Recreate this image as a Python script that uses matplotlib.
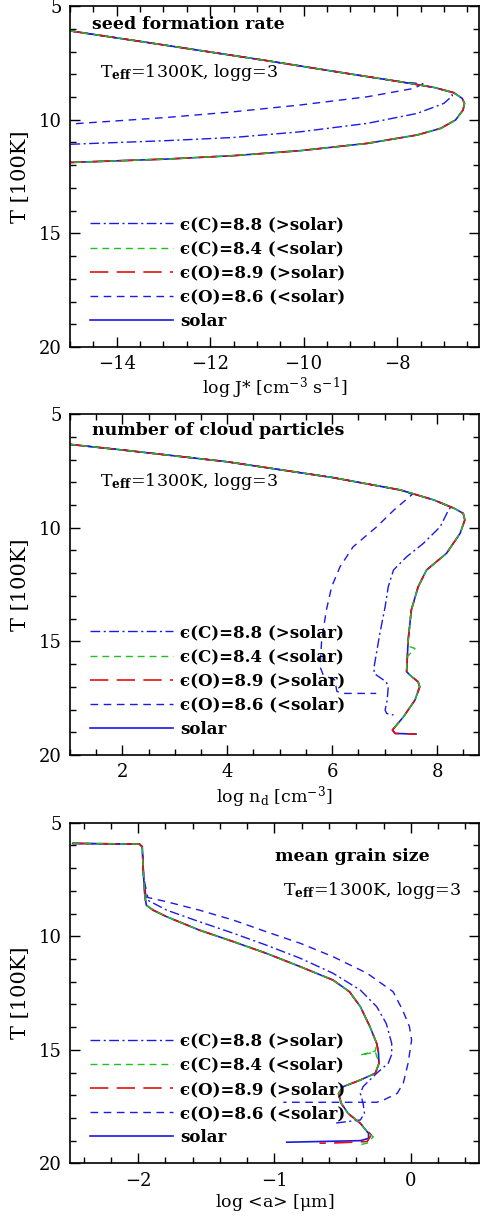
import matplotlib
matplotlib.use("Agg")
import matplotlib.pyplot as plt
from matplotlib.ticker import MultipleLocator
from matplotlib.lines import Line2D

plt.rcParams["font.family"] = "DejaVu Serif"
plt.rcParams["font.size"] = 12
plt.rcParams["mathtext.fontset"] = "dejavuserif"
plt.rcParams["mathtext.default"] = "regular"
plt.rcParams["axes.linewidth"] = 1.2
plt.rcParams["figure.facecolor"] = "white"

# ---- panel 1: seed formation rate, log J* vs T[100K]
J_solar = [-15.0, -12.93, -10.79, -9.36, -7.93, -7.21, -6.79, -6.61, -6.56, -6.59,
           -6.75, -7.07, -7.57, -8.64, -10.07, -11.5, -12.93, -15.0]
TJ_solar = [6.09, 6.73, 7.40, 7.87, 8.33, 8.58, 8.81, 9.06, 9.28, 9.57,
            10.01, 10.38, 10.67, 11.04, 11.36, 11.58, 11.73, 11.88]
J_c88 = [-15.0, -12.93, -10.79, -9.36, -7.93, -7.21, -6.85, -6.82, -7.0, -7.57,
         -8.64, -10.07, -11.5, -12.93, -15.0]
TJ_c88 = [6.09, 6.73, 7.40, 7.87, 8.33, 8.58, 8.78, 8.95, 9.28, 9.72,
          10.16, 10.53, 10.78, 10.92, 11.08]
J_o86 = [-15.0, -12.93, -10.79, -9.36, -7.93, -7.45, -7.64, -8.64, -10.07, -11.5,
         -12.93, -15.0]
TJ_o86 = [6.09, 6.73, 7.40, 7.87, 8.33, 8.42, 8.62, 8.99, 9.35, 9.65, 9.90, 10.19]
# eps(C)=8.4 and eps(O)=8.9 lie on top of the solar curve here
J_c84, TJ_c84 = J_solar, TJ_solar
J_o89, TJ_o89 = J_solar, TJ_solar

# ---- panel 2: number of cloud particles, log n_d vs T[100K]
n_solar = [0.98, 2.0, 4.0, 6.0, 7.30, 7.94, 8.33, 8.50, 8.53, 8.44, 8.18, 7.80, 7.64,
           7.51, 7.45, 7.42, 7.48, 7.64, 7.67, 7.58, 7.36, 7.15, 7.20, 7.60]
Tn_solar = [6.33, 6.58, 7.10, 7.79, 8.34, 8.78, 9.15, 9.37, 9.66, 10.25, 11.13, 11.86,
            12.60, 13.62, 14.94, 16.33, 16.48, 16.78, 17.0, 17.58, 18.32, 18.90, 19.05, 19.08]
n_c88 = [0.98, 2.0, 4.0, 6.0, 7.30, 7.94, 8.26, 8.22, 8.06, 7.74, 7.42, 7.17, 7.07,
         7.01, 6.91, 6.80, 6.80, 7.03, 7.07, 7.05, 7.01, 7.04, 7.17]
Tn_c88 = [6.33, 6.58, 7.10, 7.79, 8.34, 8.78, 9.10, 9.22, 9.96, 10.69, 11.28, 11.86,
          12.60, 13.48, 14.65, 16.12, 16.41, 16.78, 17.0, 17.58, 18.02, 18.17, 18.24]
n_o86 = [0.98, 2.0, 4.0, 6.0, 7.30, 7.53, 7.18, 6.85, 6.40, 6.15, 5.99, 5.89, 5.80,
         5.77, 5.83, 6.05, 6.09, 6.21, 6.84]
Tn_o86 = [6.33, 6.58, 7.10, 7.79, 8.34, 8.53, 9.22, 9.96, 10.84, 11.72, 12.60, 13.62,
          14.94, 16.12, 16.48, 16.70, 17.20, 17.29, 17.29]
n_c84 = [0.98, 2.0, 4.0, 6.0, 7.30, 7.94, 8.33, 8.50, 8.53, 8.44, 8.18, 7.80, 7.64,
         7.51, 7.45, 7.43, 7.58, 7.48, 7.42, 7.42, 7.48, 7.64, 7.67, 7.58, 7.36, 7.15]
Tn_c84 = [6.33, 6.58, 7.10, 7.79, 8.34, 8.78, 9.15, 9.37, 9.66, 10.25, 11.13, 11.86,
          12.60, 13.62, 14.94, 15.20, 15.31, 15.56, 15.70, 16.33, 16.48, 16.78, 17.0,
          17.58, 18.32, 18.90]
n_o89, Tn_o89 = n_solar, Tn_solar

# ---- panel 3: mean grain size, log <a> vs T[100K]
a_solar = [-2.48, -1.99, -1.97, -1.96, -1.95, -1.94, -1.89, -1.79, -1.55, -1.30, -1.06,
           -0.81, -0.57, -0.45, -0.37, -0.30, -0.25, -0.238, -0.233, -0.26, -0.37,
           -0.495, -0.53, -0.51, -0.46, -0.37, -0.31, -0.31, -0.37, -0.91]
Ta_solar = [5.91, 5.94, 6.06, 7.38, 8.26, 8.63, 8.85, 9.14, 9.73, 10.24, 10.75, 11.34,
            11.93, 12.44, 13.10, 13.98, 14.72, 15.08, 15.59, 16.03, 16.33, 16.62, 16.92,
            17.36, 17.80, 18.24, 18.68, 18.90, 19.0, 19.07]
a_c88 = [-2.48, -1.99, -1.97, -1.96, -1.94, -1.79, -1.55, -1.30, -1.06, -0.81, -0.57,
         -0.37, -0.25, -0.18, -0.14, -0.14, -0.165, -0.25, -0.35, -0.37, -0.35, -0.34,
         -0.37, -0.57]
Ta_c88 = [5.91, 5.94, 6.06, 7.38, 8.38, 8.85, 9.36, 9.87, 10.39, 10.97, 11.63, 12.37,
          13.10, 13.84, 14.72, 15.20, 15.59, 16.03, 16.62, 16.92, 17.36, 17.80, 18.09,
          18.24]
a_o86 = [-2.48, -1.99, -1.97, -1.96, -1.93, -1.79, -1.55, -1.30, -1.06, -0.81, -0.57,
         -0.32, -0.13, -0.06, -0.01, 0.006, -0.02, -0.055, -0.10, -0.20, -0.25, -0.935]
Ta_o86 = [5.91, 5.94, 6.06, 7.38, 8.29, 8.48, 8.85, 9.29, 9.80, 10.31, 10.90, 11.63,
          12.44, 13.25, 13.98, 14.57, 15.59, 16.47, 16.92, 17.21, 17.31, 17.31]
a_c84 = [-2.48, -1.99, -1.97, -1.96, -1.95, -1.94, -1.89, -1.79, -1.55, -1.30, -1.06,
         -0.81, -0.57, -0.45, -0.37, -0.30, -0.25, -0.26, -0.37, -0.26, -0.233, -0.26,
         -0.37, -0.495, -0.53, -0.51, -0.46, -0.37, -0.31, -0.275, -0.32, -0.38]
Ta_c84 = [5.91, 5.94, 6.06, 7.38, 8.26, 8.63, 8.85, 9.14, 9.73, 10.24, 10.75, 11.34,
          11.93, 12.44, 13.10, 13.98, 14.72, 15.05, 15.23, 15.10, 15.59, 16.03, 16.33,
          16.62, 16.92, 17.36, 17.80, 18.24, 18.68, 18.83, 19.11, 19.19]
a_o89 = [-2.48, -1.99, -1.97, -1.96, -1.95, -1.94, -1.89, -1.79, -1.55, -1.30, -1.06,
         -0.81, -0.57, -0.45, -0.37, -0.30, -0.25, -0.238, -0.233, -0.26, -0.37,
         -0.495, -0.53, -0.51, -0.46, -0.37, -0.29, -0.32, -0.59, -0.67]
Ta_o89 = [5.91, 5.94, 6.06, 7.38, 8.26, 8.63, 8.85, 9.14, 9.73, 10.24, 10.75, 11.34,
          11.93, 12.44, 13.10, 13.98, 14.72, 15.08, 15.59, 16.03, 16.33, 16.62, 16.92,
          17.36, 17.80, 18.24, 18.75, 19.04, 19.11, 19.11]

labels = ["\u03f5(C)=8.8 (>solar)", "\u03f5(C)=8.4 (<solar)",
          "\u03f5(O)=8.9 (>solar)", "\u03f5(O)=8.6 (<solar)", "solar"]
teff_text = r"T$_{\bf eff}$=1300K, logg=3"

BLUE = "#1a1ae6"
GREEN = "#20c020"
RED = "#e01010"
sty_c88 = dict(color=BLUE, lw=1.0, dashes=(7, 2.5, 1.5, 2.5))
sty_c84 = dict(color=GREEN, lw=1.0, dashes=(5, 3.5))
sty_o89 = dict(color=RED, lw=1.2, dashes=(11, 5))
sty_o86 = dict(color=BLUE, lw=1.0, dashes=(5.5, 4))
sty_sol = dict(color=BLUE, lw=1.2)


def panel(ax, series, xlim, xmajor, xminor, xlabel):
    (xs, ts), (xc, tc), (xg, tg), (xr, tr), (xo, to) = series
    ax.plot(xs, ts, **sty_sol)
    ax.plot(xc, tc, **sty_c88)
    ax.plot(xo, to, **sty_o86)
    ax.plot(xr, tr, **sty_o89)
    ax.plot(xg, tg, **sty_c84)
    ax.set_xlim(*xlim)
    ax.set_ylim(20, 5)
    ax.xaxis.set_major_locator(MultipleLocator(xmajor))
    ax.xaxis.set_minor_locator(MultipleLocator(xminor))
    ax.yaxis.set_major_locator(MultipleLocator(5))
    ax.yaxis.set_minor_locator(MultipleLocator(1))
    ax.tick_params(which="both", direction="in", top=True, right=True, width=1.0)
    ax.tick_params(which="major", length=7, labelsize=13, pad=6)
    ax.tick_params(which="minor", length=4)
    ax.set_xlabel(xlabel, fontsize=12.5, labelpad=2)
    ax.set_ylabel("T [100K]", fontsize=15, labelpad=6)
    handles = [Line2D([], [], **sty_c88), Line2D([], [], **sty_c84),
               Line2D([], [], **sty_o89), Line2D([], [], **sty_o86),
               Line2D([], [], **sty_sol)]
    ax.legend(handles, labels, loc="lower left", bbox_to_anchor=(0.048, 0.05),
              frameon=False, prop=dict(size=12, weight="bold"), handlelength=5.0,
              handletextpad=0.45, labelspacing=0.43, borderpad=0, borderaxespad=0)


fig = plt.figure(figsize=(4.87, 12.16), dpi=100)
ax1 = fig.add_axes([0.1437, 0.7146, 0.8398, 0.2804])
ax2 = fig.add_axes([0.1437, 0.3791, 0.8398, 0.2804])
ax3 = fig.add_axes([0.1437, 0.0433, 0.8398, 0.2801])

panel(ax1, [(J_solar, TJ_solar), (J_c88, TJ_c88), (J_c84, TJ_c84),
            (J_o89, TJ_o89), (J_o86, TJ_o86)],
      (-15, -6.25), 2, 0.5, r"log J* [cm$^{-3}$ s$^{-1}$]")
ax1.text(0.054, 0.947, "seed formation rate", transform=ax1.transAxes,
         fontsize=12.5, fontweight="bold", va="center")
ax1.text(0.073, 0.804, teff_text, transform=ax1.transAxes, fontsize=12.5, va="center")

panel(ax2, [(n_solar, Tn_solar), (n_c88, Tn_c88), (n_c84, Tn_c84),
            (n_o89, Tn_o89), (n_o86, Tn_o86)],
      (1, 8.8), 2, 0.5, r"log n$_d$ [cm$^{-3}$]")
ax2.text(0.054, 0.951, "number of cloud particles", transform=ax2.transAxes,
         fontsize=12.5, fontweight="bold", va="center")
ax2.text(0.073, 0.801, teff_text, transform=ax2.transAxes, fontsize=12.5, va="center")

panel(ax3, [(a_solar, Ta_solar), (a_c88, Ta_c88), (a_c84, Ta_c84),
          (a_o89, Ta_o89), (a_o86, Ta_o86)],
      (-2.5, 0.5), 1, 0.2, r"log <a> [$\mu$m]")
ax3.text(0.501, 0.901, "mean grain size", transform=ax3.transAxes,
         fontsize=12.5, fontweight="bold", va="center")
ax3.text(0.521, 0.80, teff_text, transform=ax3.transAxes, fontsize=12.5, va="center")

fig.savefig("out.png", dpi=100)
